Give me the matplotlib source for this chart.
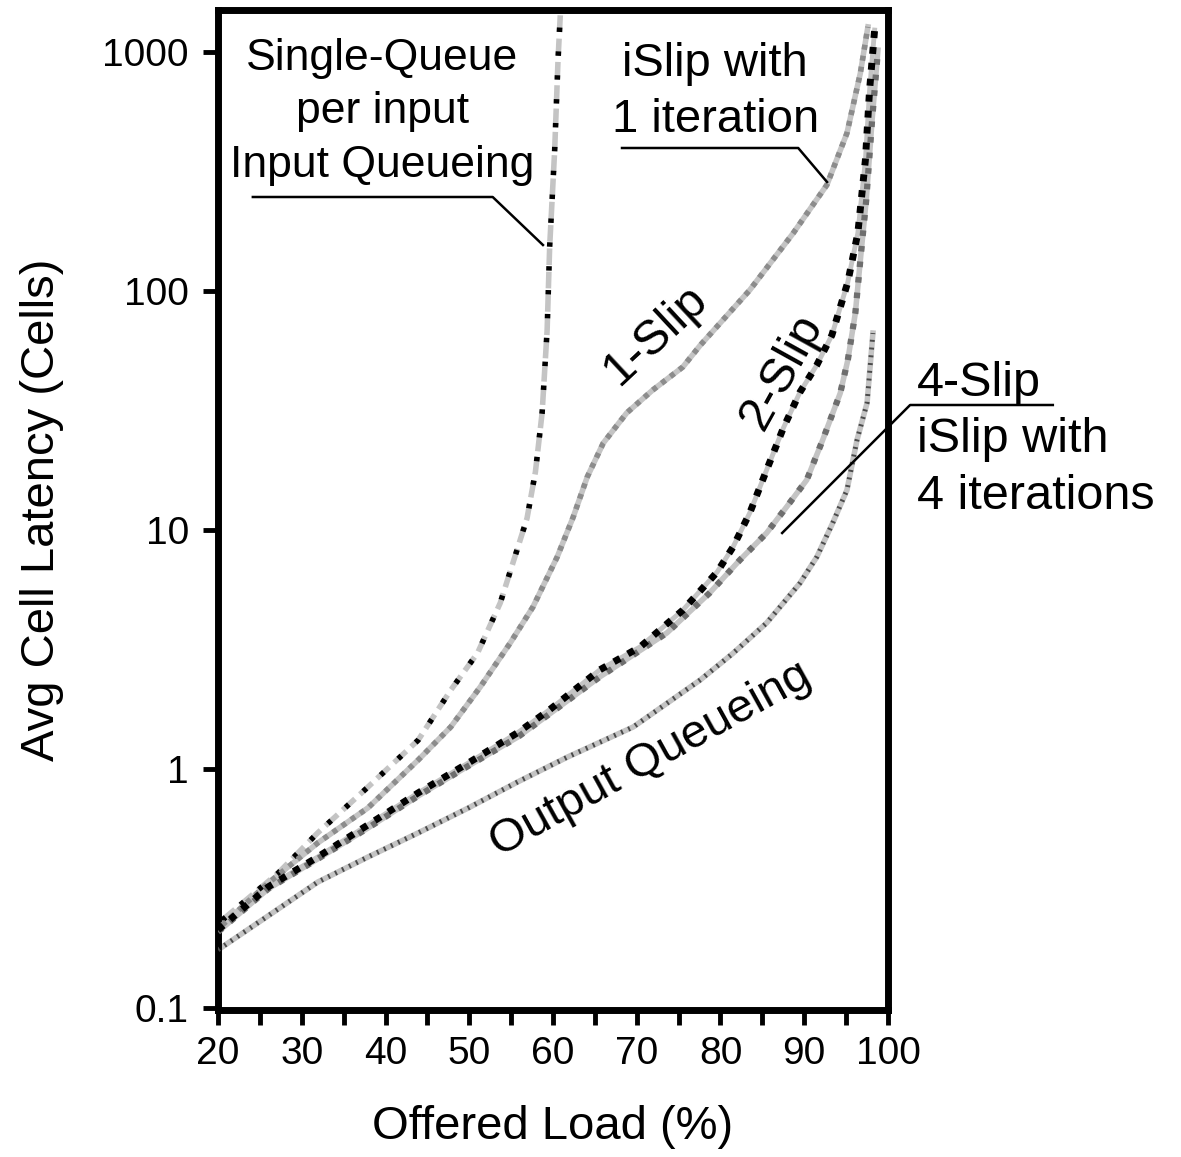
import numpy as np
import matplotlib
matplotlib.use("Agg")
import matplotlib.pyplot as plt
from matplotlib.lines import Line2D

plt.rcParams['font.family'] = ['Liberation Sans', 'DejaVu Sans']

# offered load (%) and average cell latency (cells)
fifo_load = [20.5, 27.2, 31.9, 37.9, 43.9, 47.8, 51.0, 53.7, 55.7, 56.9, 57.9, 58.7, 59.3, 59.6, 60.2, 60.6, 60.9]
fifo_lat = [0.233, 0.367, 0.54, 0.84, 1.32, 2.14, 3.06, 4.95, 8.24, 11.2, 17.5, 30.9, 68.7, 153, 389, 927, 1500]

slip1_load = [20.5, 26.0, 31.9, 37.9, 43.9, 47.8, 51.3, 54.9, 57.6, 60.5, 62.4, 64.1, 66.0, 68.8, 71.9, 75.5, 77.6,
              83.5, 88.7, 92.7, 95.1, 96.7, 97.6]
slip1_lat = [0.222, 0.333, 0.49, 0.687, 1.09, 1.50, 2.20, 3.37, 4.76, 7.71, 11.3, 16.7, 23.1, 30.9, 38.5, 48.1, 59.4,
             101, 175, 278, 458, 817, 1275]

slip2_load = [20.0, 26.0, 31.9, 37.9, 43.9, 49.9, 55.8, 59.6, 65.6, 70.4, 75.5, 79.6, 81.5, 83.5, 85.5, 87.5, 89.5,
              91.5, 93.3, 95.2, 96.4, 97.3, 97.8, 98.4]
slip2_lat = [0.212, 0.321, 0.428, 0.583, 0.794, 1.06, 1.42, 1.77, 2.60, 3.24, 4.62, 6.67, 8.49, 11.8, 17.8, 26.7, 37.8,
             49.0, 65.4, 109, 175, 353, 693, 1236]

slip4_load = [20.0, 26.0, 31.9, 37.9, 43.9, 49.9, 55.8, 59.6, 65.6, 73.6, 78.7, 82.3, 85.5, 87.9, 90.3, 92.2, 94.3,
              95.2, 96.1, 96.7, 97.4, 98.1, 98.8]
slip4_lat = [0.208, 0.315, 0.42, 0.566, 0.771, 1.03, 1.36, 1.70, 2.43, 3.71, 5.45, 7.48, 9.71, 12.5, 16.2, 23.8, 37.4,
             51.4, 80.9, 135, 240, 519, 1019]

oq_load = [20.0, 26.0, 31.9, 37.9, 43.9, 49.9, 55.8, 61.7, 69.6, 77.6, 81.5, 85.5, 89.5, 91.5, 93.4, 95.1, 96.3,
           97.5, 98.2]
oq_lat = [0.175, 0.243, 0.336, 0.428, 0.54, 0.687, 0.883, 1.12, 1.50, 2.36, 3.05, 4.08, 6.00, 7.71, 10.7, 14.7, 23.8,
          34.0, 66.7]

x_ticks = [20, 30, 40, 50, 60, 70, 80, 90, 100]
y_ticks = [0.1, 1, 10, 100, 1000]
y_labels = ['0.1', '1', '10', '100', '1000']

fig = plt.figure(figsize=(11.81, 11.57), dpi=100)
ax = fig.add_axes([218 / 1181, 1 - 1010 / 1157, 670 / 1181, 1000 / 1157])
ax.set_yscale('log')

grey = '#c4c4c4'
# FIFO input queueing: dashed grey with black marks
ax.plot(fifo_load, fifo_lat, color=grey, lw=4, ls=(0, (3, 1.2)), zorder=2)
ax.plot(fifo_load, fifo_lat, color='black', lw=4, ls=(0, (0.8, 3.5)), zorder=3)
# 1-Slip
ax.plot(slip1_load, slip1_lat, color=grey, lw=4, zorder=2)
ax.plot(slip1_load, slip1_lat, color='#8c8c8c', lw=4, ls=(0, (0.9, 1.1)), zorder=3)
# 4-Slip
ax.plot(slip4_load, slip4_lat, color=grey, lw=4, zorder=2)
ax.plot(slip4_load, slip4_lat, color='#6e6e6e', lw=4.5, ls=(0, (0.9, 1.6)), zorder=3)
# 2-Slip: black squares
ax.plot(slip2_load, slip2_lat, color=grey, lw=3.5, zorder=2)
ax.plot(slip2_load, slip2_lat, color='black', lw=5.0, ls=(0, (1, 1.3)), zorder=4)
# output queueing
ax.plot(oq_load, oq_lat, color=grey, lw=4, zorder=2)
ax.plot(oq_load, oq_lat, color='#4a4a4a', lw=3.5, ls=(0, (0.4, 1.2)), zorder=3)

ax.set_xlim(20, 100)
ax.set_ylim(0.098, 1500)
ax.set_xticks(x_ticks)
ax.set_xticks(np.arange(25, 100, 10), minor=True)
ax.set_yticks(y_ticks)
ax.set_yticklabels(y_labels)
ax.yaxis.set_minor_locator(matplotlib.ticker.NullLocator())
ax.tick_params(axis='both', which='both', direction='out', width=3.5, length=11, labelsize=28)
ax.tick_params(axis='y', pad=10)
ax.tick_params(axis='x', pad=8)
for s in ax.spines.values():
    s.set_linewidth(5)

ax.set_xlabel('Offered Load (%)', fontsize=34)
ax.set_ylabel('Avg Cell Latency (Cells)', fontsize=34)
ax.xaxis.set_label_coords(0.5, -0.095)
ax.yaxis.set_label_coords(-0.23, 0.5)

# text labels
ax.text(0.245, 0.898, 'Single-Queue\nper input\nInput Queueing', transform=ax.transAxes,
        ha='center', va='center', fontsize=32, linespacing=1.39)
ax.text(0.742, 0.918, 'iSlip with\n1 iteration', transform=ax.transAxes,
        ha='center', va='center', fontsize=34, linespacing=1.36)
ax.text(1.043, 0.570, '4-Slip\niSlip with\n4 iterations', transform=ax.transAxes,
        ha='left', va='center', fontsize=35, linespacing=1.32, clip_on=False)
ax.text(0.652, 0.675, '1-Slip', transform=ax.transAxes, ha='center', va='center',
        fontsize=35, rotation=43)
ax.text(0.842, 0.638, '2-Slip', transform=ax.transAxes, ha='center', va='center',
        fontsize=35, rotation=61)
ax.text(0.645, 0.250, 'Output Queueing', transform=ax.transAxes, ha='center', va='center',
        fontsize=34, rotation=29)

# leader lines (axes fraction)
leaders = [
    ([0.052, 0.410, 0.485], [0.813, 0.813, 0.765]),
    ([0.603, 0.866, 0.909], [0.862, 0.862, 0.828]),
    ([1.246, 1.033, 0.842], [0.605, 0.605, 0.477]),
]
for lx, ly in leaders:
    ax.add_line(Line2D(lx, ly, transform=ax.transAxes, color='black', lw=1.8,
                       clip_on=False, zorder=5))

fig.savefig('out.png', dpi=100)
